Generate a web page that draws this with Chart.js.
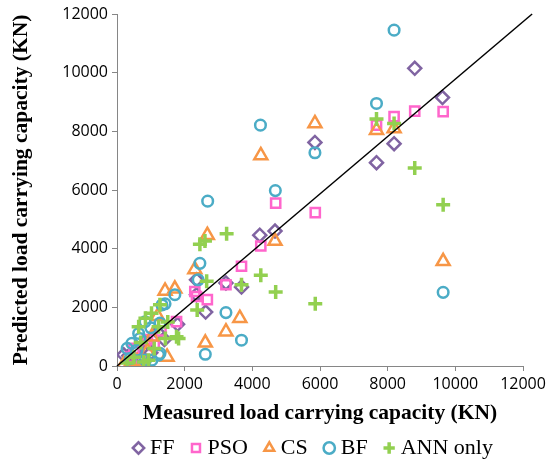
<!DOCTYPE html>
<html><head><meta charset="utf-8">
<script src="https://cdn.jsdelivr.net/npm/chart.js@4/dist/chart.umd.min.js"></script>
<style>html,body{margin:0;padding:0;background:#fff}#wrap{width:552px;height:460px}</style>
</head><body><div id="wrap"><canvas id="c" width="552" height="460"></canvas></div>
<script>
const seriesNames = ["FF", "PSO", "CS", "BF", "ANN only"];
const tickValues = [0, 2000, 4000, 6000, 8000, 10000, 12000];
const xTitle = "Measured load carrying capacity (KN)";
const yTitle = "Predicted load carrying capacity (KN)";

// measured / predicted pairs (KN)
const ffMeasured  = [8800,9620,8190,7670,5850,4220,4670,3220,3680,2350,2620,1790,2350,1200,900,600,350,200,1000,700,450,1400];
const ffPredicted = [10150,9150,7580,6930,7620,4460,4600,2830,2690,2940,1840,1420,2430,1150,800,600,350,380,450,300,150,900];

const psoMeasured  = [8190,8800,9640,7670,4690,5860,4250,3680,3220,2670,2350,1760,1300,900,600,400,1100,700,500,2300];
const psoPredicted = [8500,8690,8670,8210,5550,5230,4090,3400,2770,2260,2370,1510,1200,900,500,300,700,200,600,2540];

const csMeasured  = [7670,8190,5850,4250,9640,4670,2670,2300,3630,3220,2610,1420,1710,1030,1480,600,400,900,1200,200];
const csPredicted = [8040,8100,8270,7180,3570,4260,4460,3290,1630,1170,790,2560,2630,1000,310,150,100,500,1700,50];

const bfMeasured  = [8190,7670,4240,5850,4680,2680,9640,2450,2400,1710,1420,3220,3680,2610,1330,1270,830,640,440,300,590,1230,1030,840,390,1270,680,1000];
const bfPredicted = [11450,8950,8210,7270,5980,5620,2510,3500,2940,2430,2120,1820,880,400,2080,1460,1510,1110,770,600,540,370,200,200,250,430,940,1300];

const annMeasured  = [7670,8190,8800,9640,3240,2450,2600,4250,4690,5860,3680,2650,2370,1760,1270,1020,840,1230,640,1820,1430,790,930,500,300,1100,700,1500];
const annPredicted = [8420,8270,6750,5500,4510,4150,4260,3090,2520,2120,2770,2890,1910,1000,2090,1800,1630,1340,1340,940,940,140,200,300,100,600,800,1500];

const refLineX = [0, 12270];
const refLineY = [0, 12000];

function pairs(xs, ys) { return xs.map((x, i) => ({ x: x, y: ys[i] })); }

// fixed legend band height
const LegendEl = Chart.registry.getPlugin('legend')._element;
const origFit = LegendEl.prototype.fit;
LegendEl.prototype.fit = function () { origFit.call(this); this.height = 44; };

const none = 'rgba(0,0,0,0)';
const datasets = [
  { label: seriesNames[0], data: pairs(ffMeasured, ffPredicted), pointStyle: 'rectRot', pointRadius: 6.5, borderColor: '#8064A2', backgroundColor: none, borderWidth: 2.5, order: 5 },
  { label: seriesNames[1], data: pairs(psoMeasured, psoPredicted), pointStyle: 'rect', pointRadius: 6.5, borderColor: '#FF66CC', backgroundColor: none, borderWidth: 2.5, order: 4 },
  { label: seriesNames[2], data: pairs(csMeasured, csPredicted), pointStyle: 'triangle', pointRadius: 7.5, borderColor: '#F79646', backgroundColor: none, borderWidth: 2.5, order: 3 },
  { label: seriesNames[3], data: pairs(bfMeasured, bfPredicted), pointStyle: 'circle', pointRadius: 5.3, borderColor: '#4BACC6', backgroundColor: none, borderWidth: 2.5, order: 2 },
  { label: seriesNames[4], data: pairs(annMeasured, annPredicted), pointStyle: 'cross', pointRadius: 7, borderColor: '#92D050', backgroundColor: none, borderWidth: 3.5, order: 1 },
  { label: 'line', type: 'line', data: pairs(refLineX, refLineY), borderColor: '#000', borderWidth: 1.5, pointRadius: 0, showLine: true, fill: false, clip: false, order: 0 }
];

const axisGray = '#868686';
const tickFont = { family: '"Open Sans", "Liberation Sans", sans-serif', size: 16 };
const titleFont = { family: '"Liberation Serif", "Times New Roman", serif', size: 21.5, weight: 'bold', lineHeight: 1.2 };

new Chart(document.getElementById('c'), {
  type: 'scatter',
  data: { datasets: datasets },
  options: {
    responsive: false,
    animation: false,
    devicePixelRatio: 1,
    layout: { padding: { left: 0, right: 29, top: 14, bottom: 0 } },
    plugins: {
      tooltip: { enabled: false },
      legend: {
        position: 'bottom',
        align: 'start',
        fullSize: false,
        labels: {
          filter: (item) => item.text !== 'line',
          sort: (a, b) => a.datasetIndex - b.datasetIndex,
          usePointStyle: true,
          boxHeight: 8,
          boxWidth: 1,
          padding: 21,
          color: '#000',
          font: { family: '"Liberation Serif", "Times New Roman", serif', size: 22 }
        }
      }
    },
    scales: {
      x: {
        type: 'linear', min: 0, max: 12000,
        afterBuildTicks: (s) => { s.ticks = tickValues.map(v => ({ value: v })); },
        afterFit: (s) => { s.height = 50; },
        border: { display: true, color: axisGray, width: 1 },
        grid: { display: true, drawOnChartArea: false, drawTicks: true, tickLength: 5, color: axisGray },
        ticks: { color: '#000', font: tickFont, padding: 4, maxRotation: 0, callback: (v) => String(v) },
        title: { display: true, text: xTitle, color: '#000', font: titleFont, padding: { top: 0, bottom: -10 } }
      },
      y: {
        type: 'linear', min: 0, max: 12000,
        afterBuildTicks: (s) => { s.ticks = tickValues.map(v => ({ value: v })); },
        afterFit: (s) => { s.width = 117; },
        border: { display: true, color: axisGray, width: 1 },
        grid: { display: true, drawOnChartArea: false, drawTicks: true, tickLength: 5, color: axisGray },
        ticks: { color: '#000', font: tickFont, padding: 4, callback: (v) => String(v) },
        title: { display: true, text: yTitle, color: '#000', font: titleFont, padding: { top: 9, bottom: 0 } }
      }
    }
  }
});
</script></body></html>
